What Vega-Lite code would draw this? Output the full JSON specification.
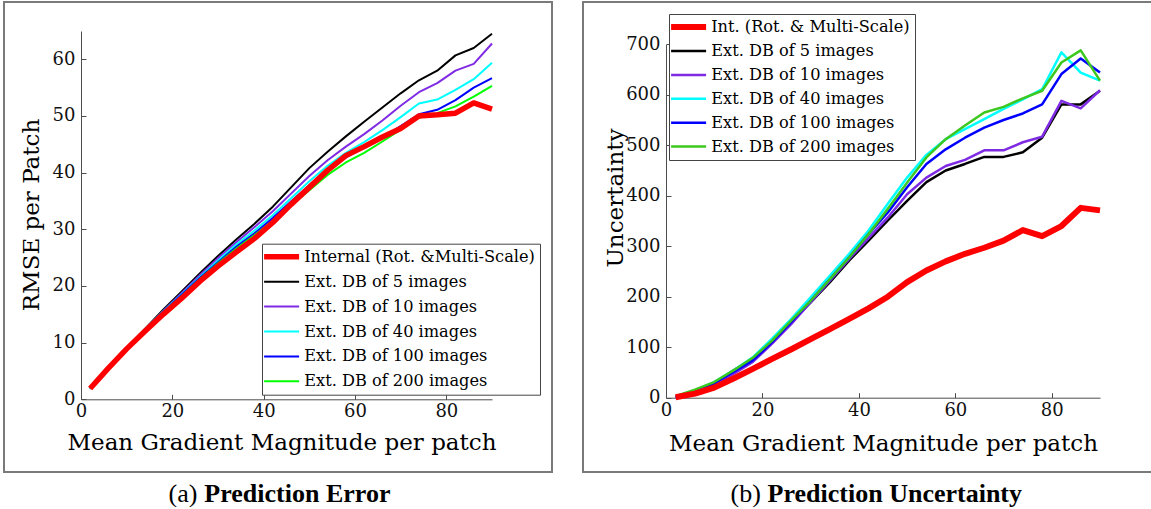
{
  "$schema": "https://vega.github.io/schema/vega-lite/v6.json",
  "padding": {"left": 3, "top": 1, "right": 0, "bottom": 0},
  "background": "white",
  "spacing": 29,
  "config": {
    "view": {"stroke": "#7a7a7a", "strokeWidth": 2},
    "axis": {
      "grid": false,
      "domainColor": "#4d4d4d",
      "tickColor": "#4d4d4d",
      "tickSize": -5,
      "labelFont": "DejaVu Serif",
      "labelFontSize": 18,
      "labelColor": "#111111",
      "labelFlush": false,
      "titleFont": "DejaVu Serif",
      "titleFontSize": 23,
      "titleFontWeight": "normal",
      "titleColor": "#000000"
    },
    "axisX": {"labelPadding": 8.5},
    "axisY": {"labelPadding": 11},
    "line": {"strokeJoin": "round"}
  },
  "datasets": {
    "left": [
      {"x":2,"s":"int","v":1.9},{"x":6,"s":"int","v":5.5},{"x":10,"s":"int","v":8.9},{"x":14,"s":"int","v":12.0},{"x":18,"s":"int","v":15.0},{"x":22,"s":"int","v":17.8},{"x":26,"s":"int","v":20.8},{"x":30,"s":"int","v":23.5},{"x":34,"s":"int","v":26.0},{"x":38,"s":"int","v":28.4},{"x":42,"s":"int","v":31.2},{"x":46,"s":"int","v":34.4},{"x":50,"s":"int","v":37.4},{"x":54,"s":"int","v":40.4},{"x":58,"s":"int","v":43.0},{"x":62,"s":"int","v":44.6},{"x":66,"s":"int","v":46.3},{"x":70,"s":"int","v":47.8},{"x":74,"s":"int","v":50.0},{"x":78,"s":"int","v":50.2},{"x":82,"s":"int","v":50.5},{"x":86,"s":"int","v":52.3},{"x":90,"s":"int","v":51.2},
      {"x":2,"s":"e5","v":1.9},{"x":6,"s":"e5","v":5.6},{"x":10,"s":"e5","v":9.1},{"x":14,"s":"e5","v":12.4},{"x":18,"s":"e5","v":15.8},{"x":22,"s":"e5","v":19.0},{"x":26,"s":"e5","v":22.2},{"x":30,"s":"e5","v":25.3},{"x":34,"s":"e5","v":28.2},{"x":38,"s":"e5","v":31.0},{"x":42,"s":"e5","v":34.0},{"x":46,"s":"e5","v":37.4},{"x":50,"s":"e5","v":40.8},{"x":54,"s":"e5","v":43.7},{"x":58,"s":"e5","v":46.4},{"x":62,"s":"e5","v":49.0},{"x":66,"s":"e5","v":51.5},{"x":70,"s":"e5","v":54.0},{"x":74,"s":"e5","v":56.3},{"x":78,"s":"e5","v":58.0},{"x":82,"s":"e5","v":60.7},{"x":86,"s":"e5","v":62.0},{"x":90,"s":"e5","v":64.5},
      {"x":2,"s":"e10","v":1.9},{"x":6,"s":"e10","v":5.6},{"x":10,"s":"e10","v":9.0},{"x":14,"s":"e10","v":12.3},{"x":18,"s":"e10","v":15.6},{"x":22,"s":"e10","v":18.7},{"x":26,"s":"e10","v":21.9},{"x":30,"s":"e10","v":24.9},{"x":34,"s":"e10","v":27.7},{"x":38,"s":"e10","v":30.4},{"x":42,"s":"e10","v":33.2},{"x":46,"s":"e10","v":36.3},{"x":50,"s":"e10","v":39.4},{"x":54,"s":"e10","v":42.2},{"x":58,"s":"e10","v":44.6},{"x":62,"s":"e10","v":46.8},{"x":66,"s":"e10","v":49.2},{"x":70,"s":"e10","v":51.8},{"x":74,"s":"e10","v":54.2},{"x":78,"s":"e10","v":55.8},{"x":82,"s":"e10","v":58.0},{"x":86,"s":"e10","v":59.2},{"x":90,"s":"e10","v":62.8},
      {"x":2,"s":"e40","v":1.9},{"x":6,"s":"e40","v":5.6},{"x":10,"s":"e40","v":9.0},{"x":14,"s":"e40","v":12.3},{"x":18,"s":"e40","v":15.5},{"x":22,"s":"e40","v":18.5},{"x":26,"s":"e40","v":21.6},{"x":30,"s":"e40","v":24.5},{"x":34,"s":"e40","v":27.3},{"x":38,"s":"e40","v":29.8},{"x":42,"s":"e40","v":32.5},{"x":46,"s":"e40","v":35.5},{"x":50,"s":"e40","v":38.5},{"x":54,"s":"e40","v":41.2},{"x":58,"s":"e40","v":43.5},{"x":62,"s":"e40","v":45.4},{"x":66,"s":"e40","v":47.5},{"x":70,"s":"e40","v":49.8},{"x":74,"s":"e40","v":52.2},{"x":78,"s":"e40","v":52.9},{"x":82,"s":"e40","v":54.6},{"x":86,"s":"e40","v":56.5},{"x":90,"s":"e40","v":59.4},
      {"x":2,"s":"e100","v":1.9},{"x":6,"s":"e100","v":5.6},{"x":10,"s":"e100","v":9.0},{"x":14,"s":"e100","v":12.2},{"x":18,"s":"e100","v":15.4},{"x":22,"s":"e100","v":18.4},{"x":26,"s":"e100","v":21.4},{"x":30,"s":"e100","v":24.2},{"x":34,"s":"e100","v":26.9},{"x":38,"s":"e100","v":29.3},{"x":42,"s":"e100","v":32.0},{"x":46,"s":"e100","v":34.9},{"x":50,"s":"e100","v":37.8},{"x":54,"s":"e100","v":40.6},{"x":58,"s":"e100","v":42.7},{"x":62,"s":"e100","v":44.4},{"x":66,"s":"e100","v":46.2},{"x":70,"s":"e100","v":48.2},{"x":74,"s":"e100","v":50.3},{"x":78,"s":"e100","v":51.1},{"x":82,"s":"e100","v":52.8},{"x":86,"s":"e100","v":55.0},{"x":90,"s":"e100","v":56.7},
      {"x":2,"s":"e200","v":1.9},{"x":6,"s":"e200","v":5.6},{"x":10,"s":"e200","v":9.0},{"x":14,"s":"e200","v":12.2},{"x":18,"s":"e200","v":15.3},{"x":22,"s":"e200","v":18.2},{"x":26,"s":"e200","v":21.2},{"x":30,"s":"e200","v":24.0},{"x":34,"s":"e200","v":26.6},{"x":38,"s":"e200","v":29.0},{"x":42,"s":"e200","v":31.5},{"x":46,"s":"e200","v":34.2},{"x":50,"s":"e200","v":36.9},{"x":54,"s":"e200","v":39.6},{"x":58,"s":"e200","v":41.8},{"x":62,"s":"e200","v":43.5},{"x":66,"s":"e200","v":45.5},{"x":70,"s":"e200","v":47.6},{"x":74,"s":"e200","v":49.7},{"x":78,"s":"e200","v":50.5},{"x":82,"s":"e200","v":51.7},{"x":86,"s":"e200","v":53.4},{"x":90,"s":"e200","v":55.3}
    ],
    "right": [
      {"x":2,"s":"int","v":1},{"x":6,"s":"int","v":8},{"x":10,"s":"int","v":20},{"x":14,"s":"int","v":38},{"x":18,"s":"int","v":57},{"x":22,"s":"int","v":77},{"x":26,"s":"int","v":96},{"x":30,"s":"int","v":116},{"x":34,"s":"int","v":136},{"x":38,"s":"int","v":156},{"x":42,"s":"int","v":177},{"x":46,"s":"int","v":200},{"x":50,"s":"int","v":229},{"x":54,"s":"int","v":252},{"x":58,"s":"int","v":270},{"x":62,"s":"int","v":285},{"x":66,"s":"int","v":297},{"x":70,"s":"int","v":311},{"x":74,"s":"int","v":332},{"x":78,"s":"int","v":320},{"x":82,"s":"int","v":340},{"x":86,"s":"int","v":376},{"x":90,"s":"int","v":371},
      {"x":2,"s":"e5","v":1},{"x":6,"s":"e5","v":11},{"x":10,"s":"e5","v":28},{"x":14,"s":"e5","v":54},{"x":18,"s":"e5","v":77},{"x":22,"s":"e5","v":113},{"x":26,"s":"e5","v":150},{"x":30,"s":"e5","v":189},{"x":34,"s":"e5","v":229},{"x":38,"s":"e5","v":272},{"x":42,"s":"e5","v":311},{"x":46,"s":"e5","v":351},{"x":50,"s":"e5","v":390},{"x":54,"s":"e5","v":427},{"x":58,"s":"e5","v":450},{"x":62,"s":"e5","v":463},{"x":66,"s":"e5","v":477},{"x":70,"s":"e5","v":477},{"x":74,"s":"e5","v":486},{"x":78,"s":"e5","v":515},{"x":82,"s":"e5","v":581},{"x":86,"s":"e5","v":581},{"x":90,"s":"e5","v":608},
      {"x":2,"s":"e10","v":1},{"x":6,"s":"e10","v":9},{"x":10,"s":"e10","v":24},{"x":14,"s":"e10","v":47},{"x":18,"s":"e10","v":71},{"x":22,"s":"e10","v":107},{"x":26,"s":"e10","v":146},{"x":30,"s":"e10","v":189},{"x":34,"s":"e10","v":232},{"x":38,"s":"e10","v":275},{"x":42,"s":"e10","v":316},{"x":46,"s":"e10","v":357},{"x":50,"s":"e10","v":403},{"x":54,"s":"e10","v":436},{"x":58,"s":"e10","v":459},{"x":62,"s":"e10","v":471},{"x":66,"s":"e10","v":490},{"x":70,"s":"e10","v":490},{"x":74,"s":"e10","v":506},{"x":78,"s":"e10","v":517},{"x":82,"s":"e10","v":588},{"x":86,"s":"e10","v":573},{"x":90,"s":"e10","v":609},
      {"x":2,"s":"e40","v":3},{"x":6,"s":"e40","v":15},{"x":10,"s":"e40","v":31},{"x":14,"s":"e40","v":54},{"x":18,"s":"e40","v":80},{"x":22,"s":"e40","v":117},{"x":26,"s":"e40","v":156},{"x":30,"s":"e40","v":199},{"x":34,"s":"e40","v":242},{"x":38,"s":"e40","v":285},{"x":42,"s":"e40","v":331},{"x":46,"s":"e40","v":384},{"x":50,"s":"e40","v":436},{"x":54,"s":"e40","v":481},{"x":58,"s":"e40","v":512},{"x":62,"s":"e40","v":532},{"x":66,"s":"e40","v":552},{"x":70,"s":"e40","v":572},{"x":74,"s":"e40","v":591},{"x":78,"s":"e40","v":611},{"x":82,"s":"e40","v":684},{"x":86,"s":"e40","v":644},{"x":90,"s":"e40","v":628},
      {"x":2,"s":"e100","v":1},{"x":6,"s":"e100","v":13},{"x":10,"s":"e100","v":29},{"x":14,"s":"e100","v":51},{"x":18,"s":"e100","v":74},{"x":22,"s":"e100","v":110},{"x":26,"s":"e100","v":150},{"x":30,"s":"e100","v":192},{"x":34,"s":"e100","v":235},{"x":38,"s":"e100","v":278},{"x":42,"s":"e100","v":324},{"x":46,"s":"e100","v":367},{"x":50,"s":"e100","v":417},{"x":54,"s":"e100","v":463},{"x":58,"s":"e100","v":492},{"x":62,"s":"e100","v":515},{"x":66,"s":"e100","v":535},{"x":70,"s":"e100","v":550},{"x":74,"s":"e100","v":563},{"x":78,"s":"e100","v":581},{"x":82,"s":"e100","v":641},{"x":86,"s":"e100","v":672},{"x":90,"s":"e100","v":644},
      {"x":2,"s":"e200","v":3},{"x":6,"s":"e200","v":16},{"x":10,"s":"e200","v":31},{"x":14,"s":"e200","v":54},{"x":18,"s":"e200","v":79},{"x":22,"s":"e200","v":113},{"x":26,"s":"e200","v":153},{"x":30,"s":"e200","v":192},{"x":34,"s":"e200","v":235},{"x":38,"s":"e200","v":278},{"x":42,"s":"e200","v":324},{"x":46,"s":"e200","v":374},{"x":50,"s":"e200","v":426},{"x":54,"s":"e200","v":476},{"x":58,"s":"e200","v":512},{"x":62,"s":"e200","v":539},{"x":66,"s":"e200","v":565},{"x":70,"s":"e200","v":576},{"x":74,"s":"e200","v":593},{"x":78,"s":"e200","v":608},{"x":82,"s":"e200","v":664},{"x":86,"s":"e200","v":688},{"x":90,"s":"e200","v":628}
    ]
  },
  "hconcat": [
    {
      "width": 548,
      "height": 470,
      "data": {"name": "left"},
      "layer": [
        {
          "transform": [{"filter": "datum.s !== 'int'"}],
          "mark": {"type": "line", "strokeWidth": 2},
          "encoding": {
            "x": {"field": "x", "type": "quantitative",
              "scale": {"domain": [0, 90], "range": [77, 488], "nice": false, "zero": false},
              "axis": {"orient": "bottom", "offset": -72.7, "values": [0, 20, 40, 60, 80],
                "title": "Mean Gradient Magnitude per patch", "titleX": 277.5, "titleY": 49.7, "titleBaseline": "alphabetic", "titleAlign": "center"}},
            "y": {"field": "v", "type": "quantitative",
              "scale": {"domain": [0, 65], "range": [397.3, 29], "nice": false, "zero": false},
              "axis": {"orient": "left", "offset": -77, "values": [0, 10, 20, 30, 40, 50, 60],
                "title": "RMSE per  Patch", "titleX": -50, "titleY": 212.5, "titleAngle": 270, "titleBaseline": "middle", "titleAlign": "center"}},
            "color": {"field": "s", "type": "nominal",
              "scale": {"domain": ["int", "e5", "e10", "e40", "e100", "e200"], "range": ["#ff0000", "#000000", "#7f2be4", "#00ffff", "#0000ff", "#00ff00"]},
              "legend": {"orient": "none", "legendX": 258, "legendY": 241.7, "title": null,
                "labelExpr": "datum.value == 'int' ? 'Internal (Rot. &Multi-Scale)' : datum.value == 'e5' ? 'Ext. DB of 5 images' : datum.value == 'e10' ? 'Ext. DB of 10 images' : datum.value == 'e40' ? 'Ext. DB of 40 images' : datum.value == 'e100' ? 'Ext. DB of 100 images' : 'Ext. DB of 200 images'",
                "symbolType": "M-2.5,0H2.5", "symbolSize": 196, "symbolOffset": 6.5, "labelOffset": 14.5,
                "symbolStrokeWidth": {"expr": "datum.value == 'int' ? 5.5 : 2"},
                "padding": 5, "rowPadding": 7.9, "strokeColor": "#444444", "fillColor": "white",
                "labelFont": "DejaVu Serif", "labelFontSize": 16.2, "labelColor": "#000000", "labelLimit": 400}}
          }
        },
        {
          "transform": [{"filter": "datum.s === 'int'"}],
          "mark": {"type": "line", "strokeWidth": 5.5},
          "encoding": {
            "x": {"field": "x", "type": "quantitative",
              "axis": {"orient": "top", "domain": false, "ticks": false, "labels": false,
                "title": "(a)", "titleX": 178.4, "titleY": 491, "titleAngle": 0, "titleBaseline": "middle", "titleAlign": "center",
                "titleFont": "Liberation Serif", "titleFontSize": 26, "titleFontWeight": "normal"}},
            "y": {"field": "v", "type": "quantitative",
              "axis": {"orient": "right", "domain": false, "ticks": false, "labels": false,
                "title": "Prediction Error", "titleX": -255.1, "titleY": 491, "titleAngle": 0, "titleBaseline": "middle", "titleAlign": "center",
                "titleFont": "Liberation Serif", "titleFontSize": 26, "titleFontWeight": "bold"}},
            "color": {"field": "s", "type": "nominal"}
          }
        }
      ],
      "resolve": {"axis": {"x": "independent", "y": "independent"}}
    },
    {
      "width": 570,
      "height": 470,
      "data": {"name": "right"},
      "layer": [
        {
          "transform": [{"filter": "datum.s !== 'int'"}],
          "mark": {"type": "line", "strokeWidth": 2.5},
          "encoding": {
            "x": {"field": "x", "type": "quantitative",
              "scale": {"domain": [0, 90], "range": [83, 517], "nice": false, "zero": false},
              "axis": {"orient": "bottom", "offset": -74.3, "values": [0, 20, 40, 60, 80],
                "title": "Mean Gradient Magnitude per patch", "titleX": 300, "titleY": 52.3, "titleBaseline": "alphabetic", "titleAlign": "center"}},
            "y": {"field": "v", "type": "quantitative",
              "scale": {"domain": [0, 700], "range": [395.7, 42.3], "nice": false, "zero": false},
              "axis": {"orient": "left", "offset": -83, "values": [0, 100, 200, 300, 400, 500, 600, 700],
                "title": "Uncertainty", "titleX": -51, "titleY": 195.5, "titleAngle": 270, "titleBaseline": "middle", "titleAlign": "center"}},
            "color": {"field": "s", "type": "nominal",
              "scale": {"domain": ["int", "e5", "e10", "e40", "e100", "e200"], "range": ["#ff0000", "#000000", "#7f2be4", "#00ffff", "#0000ff", "#3cc81e"]},
              "legend": {"orient": "none", "legendX": 86, "legendY": 12, "title": null,
                "labelExpr": "datum.value == 'int' ? 'Int. (Rot. & Multi-Scale)' : datum.value == 'e5' ? 'Ext. DB of 5 images' : datum.value == 'e10' ? 'Ext. DB of 10 images' : datum.value == 'e40' ? 'Ext. DB of 40 images' : datum.value == 'e100' ? 'Ext. DB of 100 images' : 'Ext. DB of 200 images'",
                "symbolType": "M-2.5,0H2.5", "symbolSize": 196, "symbolOffset": 6.5, "labelOffset": 14.5,
                "symbolStrokeWidth": {"expr": "datum.value == 'int' ? 6 : 2.5"},
                "padding": 5, "rowPadding": 6.9, "strokeColor": "#444444", "fillColor": "white",
                "labelFont": "DejaVu Serif", "labelFontSize": 16.2, "labelColor": "#000000", "labelLimit": 400}}
          }
        },
        {
          "transform": [{"filter": "datum.s === 'int'"}],
          "mark": {"type": "line", "strokeWidth": 6},
          "encoding": {
            "x": {"field": "x", "type": "quantitative",
              "axis": {"orient": "top", "domain": false, "ticks": false, "labels": false,
                "title": "(b)", "titleX": 162.2, "titleY": 491, "titleAngle": 0, "titleBaseline": "middle", "titleAlign": "center",
                "titleFont": "Liberation Serif", "titleFontSize": 26, "titleFontWeight": "normal"}},
            "y": {"field": "v", "type": "quantitative",
              "axis": {"orient": "right", "domain": false, "ticks": false, "labels": false,
                "title": "Prediction Uncertainty", "titleX": -258.7, "titleY": 491, "titleAngle": 0, "titleBaseline": "middle", "titleAlign": "center",
                "titleFont": "Liberation Serif", "titleFontSize": 26, "titleFontWeight": "bold"}},
            "color": {"field": "s", "type": "nominal"}
          }
        }
      ],
      "resolve": {"axis": {"x": "independent", "y": "independent"}}
    }
  ],
  "resolve": {
    "scale": {"color": "independent", "x": "independent", "y": "independent"},
    "legend": {"color": "independent"}
  }
}
